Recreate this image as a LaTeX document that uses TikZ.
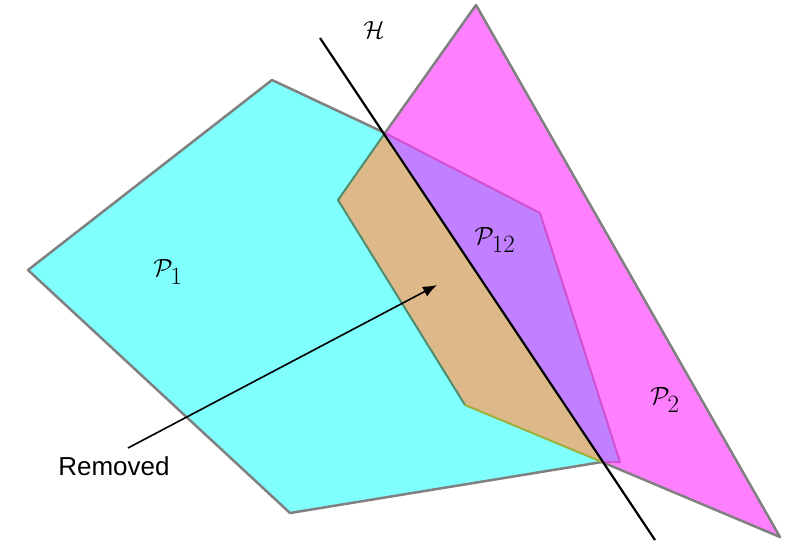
\documentclass[tikz,border=0pt]{standalone}
\usepackage{fontspec}
\usetikzlibrary{arrows.meta}
\newfontfamily\lab{Liberation Sans}
\begin{document}
\begin{tikzpicture}[x=1pt,y=-1pt,
  edge/.style={draw=gray,line width=2.5pt,line join=round},
  lbl/.style={inner sep=0pt,font=\fontsize{36}{40}\selectfont}]
\useasboundingbox (0,0) rectangle (787,550);
\definecolor{cy}{HTML}{80FFFF}\definecolor{mg}{HTML}{FF80FF}
\definecolor{pu}{HTML}{C080FF}\definecolor{or}{HTML}{DDB98A}
\fill[cy] (28,270)--(272,80)--(385,133)--(602,462)--(290,513)--cycle;
\draw[edge] (385,133)--(272,80)--(28,270)--(290,513)--(602,462);
\fill[mg] (476,5)--(780,537)--(602,462)--(385,133)--cycle;
\draw[edge] (385,133)--(476,5)--(780,537)--(602,462);
\fill[or] (385,133)--(338,200)--(465,405)--(602,462)--cycle;
\draw[draw={rgb,255:red,80;green,140;blue,110},line width=2pt,line join=round] (385,133)--(338,200)--(465,405);
\draw[draw={rgb,255:red,160;green,175;blue,60},line width=2pt] (465,405)--(602,462);
\fill[pu] (385,133)--(540,213)--(620,462)--(602,462)--cycle;
\draw[draw={rgb,255:red,210;green,80;blue,210},line width=2pt,line join=round] (385,133)--(540,213)--(620,462)--(602,462);
\coordinate (h1) at (320,38); \coordinate (h2) at (655,540);
\draw[line width=2.2pt] (h1)--(h2);
\node[lbl] (H) at (374,30) {$\mathcal{H}$};
\node[lbl] (p1) at (168,272) {$\mathcal{P}_1$};
\node[lbl] (p12) at (495,240) {$\mathcal{P}_{12}$};
\node[lbl] (p2) at (665,400) {$\mathcal{P}_2$};
\node[inner sep=0pt,font=\lab\fontsize{26}{30}\selectfont] (rm) at (114,466) {Removed};
\coordinate (at) at (437,285);
\draw[line width=1.6pt,-{Latex[length=14pt,width=11pt]}] (128,448)--(at);
\end{tikzpicture}
\end{document}
